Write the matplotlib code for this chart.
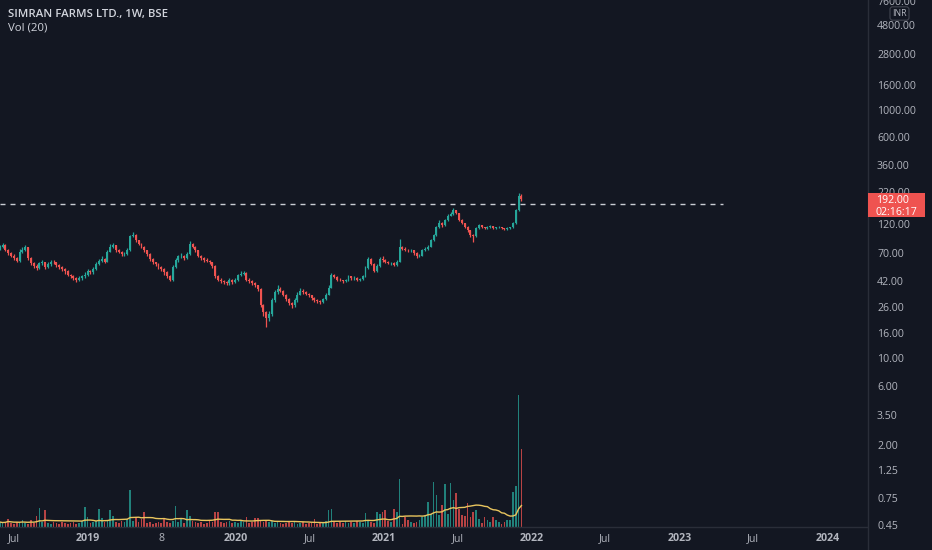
import numpy as np
import pandas as pd
import matplotlib
matplotlib.use('Agg')
import matplotlib.pyplot as plt
import matplotlib.dates as mdates
from matplotlib.patches import Rectangle
from matplotlib.lines import Line2D
from matplotlib.ticker import FixedLocator, FixedFormatter, NullLocator

plt.rcParams['font.family'] = ['Open Sans', 'DejaVu Sans']

# ---------------- data ----------------
start_week = '2018-05-28'   # weekly bars

opens = [76, 79, 82, 75, 70, 67, 64, 61, 72, 75,
         78, 64, 58, 55, 53, 58, 59, 54, 57, 60,
         59, 56, 54, 52, 50, 47, 45.5, 44, 42.4, 44,
         45.5, 47, 50, 49, 52, 57, 61, 63, 60, 72,
         79, 81, 74, 72, 69, 69.5, 74, 96, 99, 89,
         83, 79, 74, 69, 63, 59, 57, 54, 52, 49,
         45.5, 43, 54, 62, 66, 67, 64, 69, 83, 79,
         74, 67, 64, 62, 61, 59, 55, 45.5, 43, 41.6,
         41, 40, 42.4, 41, 43, 46.5, 48, 48.5, 43, 41.6,
         40, 38.6, 36.4, 26.7, 23.5, 21, 22.5, 29.3, 34, 36.4,
         35, 32.5, 29.8, 27.8, 26.7, 29.3, 32.5, 34.5, 34, 33,
         32, 30.3, 29.3, 28.8, 28.4, 29.8, 32.5, 37, 46.5, 45,
         43, 42.4, 41.6, 42.4, 45.5, 44, 44.5, 43, 43.5, 45.5,
         53, 63, 57, 50, 55, 63, 62, 60, 58, 58.5,
         56, 60, 78, 76, 75, 74, 74.5, 70, 66, 67,
         74, 76, 79, 89, 98, 113, 122, 118, 129, 141,
         145, 155, 147, 129, 122, 115, 107, 98, 96, 111,
         118, 113, 111, 115, 115.5, 111, 113, 113.5, 111, 109,
         111, 113, 122, 155, 203]

closes = [79, 82, 75, 70, 67, 64, 61, 72, 75, 78,
          64, 58, 55, 53, 58, 59, 54, 57, 60, 59,
          56, 54, 52, 50, 47, 45.5, 44, 42.4, 44, 45.5,
          47, 50, 49, 52, 57, 61, 63, 60, 72, 79,
          81, 74, 72, 69, 69.5, 74, 96, 99, 89, 83,
          79, 74, 69, 63, 59, 57, 54, 52, 49, 45.5,
          43, 54, 62, 66, 67, 64, 69, 83, 79, 74,
          67, 64, 62, 61, 59, 55, 45.5, 43, 41.6, 41,
          40, 42.4, 41, 43, 46.5, 48, 48.5, 43, 41.6, 40,
          38.6, 36.4, 26.7, 23.5, 21, 22.5, 29.3, 34, 36.4, 35,
          32.5, 29.8, 27.8, 26.7, 29.3, 32.5, 34.5, 34, 33, 32,
          30.3, 29.3, 28.8, 28.4, 29.8, 32.5, 37, 46.5, 45, 43,
          42.4, 41.6, 42.4, 45.5, 44, 44.5, 43, 43.5, 45.5, 53,
          63, 57, 50, 55, 63, 62, 60, 58, 58.5, 56,
          60, 78, 76, 75, 74, 74.5, 70, 66, 67, 74,
          76, 79, 89, 98, 113, 122, 118, 129, 141, 145,
          155, 147, 129, 122, 115, 107, 98, 96, 111, 118,
          113, 111, 115, 115.5, 111, 113, 113.5, 111, 109, 111,
          113, 122, 155, 203, 192]

highs = [82, 85, 83, 76, 72, 69, 65, 76, 78, 81,
         79, 65, 59, 57, 60, 62, 60, 59, 62, 62,
         60, 57, 55, 53, 51, 48, 46.5, 45, 45.5, 47,
         49, 52, 51.5, 54, 59, 63, 66, 64, 74, 83,
         85, 82, 76, 73, 72, 77, 99, 104, 100, 90,
         85, 80, 75, 70, 64, 60, 58, 55, 53, 50,
         46.5, 56, 64, 68, 70, 68, 71, 88, 85, 80,
         75, 68, 65, 64, 62, 60, 56, 47, 44, 43,
         42, 44, 43.5, 44.5, 48, 50, 50.5, 49, 44, 42.5,
         41, 39, 37, 27.5, 24, 24, 30.5, 35.5, 38.5, 37.5,
         35.5, 33, 30.5, 28.5, 30.5, 34, 36.5, 36, 35, 33.5,
         32.5, 31, 30, 29.5, 30.5, 33.5, 38.5, 48.5, 47.5, 46,
         44, 43, 43.5, 47, 46, 45.5, 45, 44.5, 47, 55,
         65, 64, 58, 57, 65, 66, 63, 61, 60, 59,
         62, 91, 80, 78, 76, 76, 75, 71, 69, 76,
         78, 82, 92, 101, 116, 130, 124, 132, 145, 150,
         162, 157, 148, 131, 123, 116, 108, 100, 113, 121,
         119, 115, 117, 118, 117, 115, 116, 115, 112, 113,
         115, 126, 160, 213, 210]

lows = [74, 77, 73, 68, 65, 62, 59, 60, 70, 73,
        62, 56, 53, 51, 52, 56, 52, 53, 55, 57,
        54, 52, 50, 48, 46, 44, 43, 41, 41.5, 43,
        44.5, 46, 47.5, 48, 51, 56, 60, 58, 59, 71,
        77, 72, 70, 67, 67, 68, 73, 94, 87, 81,
        77, 72, 67, 61, 57, 55, 52, 50, 47, 44,
        41.5, 42, 53, 60, 64, 62, 63, 68, 77, 72,
        65, 62, 60, 59, 57, 53, 44, 41.5, 40, 39.5,
        38.5, 39, 39.5, 40, 42, 45.5, 46.5, 42, 40, 39,
        37.5, 35, 26, 22, 17.7, 20, 22, 28.5, 33, 34,
        31.5, 29, 27, 25.5, 26, 28.5, 32, 33, 32, 31,
        29.5, 28.5, 28, 27.5, 27.8, 29.3, 32, 36.5, 44, 42,
        41.5, 40.5, 41, 41.8, 43, 43, 42, 42, 43, 45,
        52, 56, 49, 49.5, 54, 60, 58, 57, 56.5, 55,
        55, 59, 74, 73, 72, 72, 68, 64, 65, 66,
        73, 75, 78, 88, 97, 111, 115, 117, 127, 139,
        143, 144, 127, 120, 112, 104, 95, 86, 95, 109,
        111, 109, 110, 112, 109, 109, 111, 109, 107, 107,
        110, 112, 120, 153, 185]

# weekly volume (thousand shares)
volumes = [5, 4, 5, 8, 4, 3, 5, 4, 7, 4,
           3, 7, 4, 11, 19, 5, 17, 4, 3, 5,
           4, 3, 5, 4, 3, 4, 5, 3, 4, 6,
           20, 10, 4, 5, 6, 18, 9, 5, 6, 17,
           11, 5, 4, 6, 5, 8, 37, 6, 9, 5,
           8, 15, 4, 5, 3, 4, 5, 4, 8, 5,
           4, 6, 21, 5, 8, 4, 17, 11, 6, 5,
           4, 5, 3, 4, 6, 5, 15, 15, 5, 4,
           5, 6, 4, 5, 4, 6, 5, 10, 4, 5,
           9, 9, 6, 5, 7, 5, 6, 4, 5, 4,
           3, 4, 5, 4, 5, 3, 4, 5, 3, 4,
           4, 8, 3, 4, 5, 6, 17, 18, 5, 4,
           5, 4, 6, 4, 5, 4, 6, 5, 4, 14,
           6, 5, 4, 15, 13, 15, 17, 6, 5, 18,
           15, 48, 3, 10, 7, 5, 4, 5, 7, 10,
           12, 25, 13, 45, 32, 12, 22, 43, 13, 44,
           27, 34, 18, 12, 11, 24, 10, 15, 17, 8,
           4, 10, 7, 5, 10, 7, 5, 3, 5, 7,
           7, 35, 41, 132, 78]

price_ticks = [7600, 4800, 2800, 1600, 1000, 600, 360, 220, 120, 70, 42,
               26, 16, 10, 6, 3.5, 2, 1.25, 0.75, 0.45]
time_ticks = ['2018-07-01', '2019-01-01', '2019-07-01', '2020-01-01',
              '2020-07-01', '2021-01-01', '2021-07-01', '2022-01-01',
              '2022-07-01', '2023-01-01', '2023-07-01', '2024-01-01']
time_labels = ['Jul', '2019', '8', '2020', 'Jul', '2021', 'Jul', '2022',
               'Jul', '2023', 'Jul', '2024']
level_line = 174
last_price = 192.00
countdown = '02:16:17'
title = 'SIMRAN FARMS LTD., 1W, BSE'
vol_title = 'Vol (20)'
ma_len = 20

# ---------------- style ----------------
BG = '#131722'
GREEN = '#26a69a'
RED = '#ef5350'
TXT = '#b2b5be'
LINE = '#2a2e39'
MA_COLOR = '#e9c55e'

W, H = 932, 550
fig = plt.figure(figsize=(W / 100, H / 100), dpi=100, facecolor=BG)
plot_right, plot_bottom = 867, 527
ax = fig.add_axes([0, (H - plot_bottom) / H, plot_right / W, plot_bottom / H])
axv = ax.twinx()
axv.set_zorder(ax.get_zorder() - 1)
ax.patch.set_visible(False)
axv.patch.set_visible(False)

o = np.array(opens, float)
c = np.array(closes, float)
h = np.array(highs, float)
l = np.array(lows, float)
v = np.array(volumes, float)
dates = pd.date_range(start_week, periods=len(c), freq='7D')
x = mdates.date2num(dates)
colors = np.where(c >= o, GREEN, RED)

# x range: 2019-01-01 at px 88, 0.4051 px/day
ppd = 0.4051
x_left = mdates.date2num(pd.Timestamp('2019-01-01')) - 88 / ppd
x_right = x_left + plot_right / ppd
ax.set_xlim(x_left, x_right)

ax.set_yscale('log')
ax.set_ylim(0.436, 7687)

# candles
ax.vlines(x, l, h, colors=colors, lw=0.9, zorder=3)
ax.bar(x, np.abs(c - o), bottom=np.minimum(o, c), width=4.8,
       color=colors, linewidth=0, zorder=4)

# volume
axv.bar(x, v, width=4.2, color=colors, alpha=0.75, linewidth=0)
ma = pd.Series(v).rolling(ma_len, min_periods=1).mean()
axv.plot(x, ma, color=MA_COLOR, lw=1.0)
axv.set_ylim(0, v.max() / 0.25)
axv.yaxis.set_visible(False)

# horizontal level (drawn line)
ax.axhline(level_line, xmin=0, xmax=723 / plot_right, color='#c9ccd3',
           lw=1.0, dashes=(3.6, 3.6), zorder=2)

# axes styling
for a in (ax, axv):
    for s in a.spines.values():
        s.set_visible(False)

ax.yaxis.tick_right()
ax.yaxis.set_major_locator(FixedLocator(price_ticks))
ax.yaxis.set_major_formatter(FixedFormatter([f'{t:.2f}' for t in price_ticks]))
ax.yaxis.set_minor_locator(NullLocator())
ax.tick_params(axis='y', which='both', length=0, pad=7.2, labelsize=7.6,
               labelcolor=TXT)

tick_x = mdates.date2num(pd.to_datetime(time_ticks))
ax.set_xticks(tick_x)
ax.set_xticklabels(time_labels)
ax.xaxis.set_minor_locator(NullLocator())
ax.tick_params(axis='x', which='both', length=0, pad=4.5, labelsize=7.7,
               labelcolor=TXT)
for lbl in ax.get_xticklabels():
    if len(lbl.get_text()) == 4 and lbl.get_text().isdigit():
        lbl.set_fontweight('bold')

# frame lines
fig.add_artist(Line2D([(plot_right + 0.5) / W] * 2, [0, 1], color=LINE,
                      lw=1, transform=fig.transFigure))
fig.add_artist(Line2D([0, plot_right / W], [(H - plot_bottom) / H] * 2,
                      color=LINE, lw=1, transform=fig.transFigure))

# last price label box
y_disp = ax.transData.transform((x_left, last_price))[1]
box_top = y_disp + 5.6
box_bot = y_disp - 18.4
fig.add_artist(Rectangle((868 / W, box_bot / H), 57 / W, (box_top - box_bot) / H,
                         transform=fig.transFigure, facecolor=RED,
                         edgecolor='none', zorder=10))
fig.text(876 / W, (y_disp - 1.4) / H, f'{last_price:.2f}', color='white',
         fontsize=7.6, ha='left', va='center', zorder=11)
fig.text(876 / W, (y_disp - 13.4) / H, countdown, color='white',
         fontsize=7.6, ha='left', va='center', zorder=11)

# currency tag
fig.text(899.5 / W, 1 - 13.5 / H, 'INR', color=TXT, fontsize=6.3,
         ha='center', va='center', zorder=11,
         bbox=dict(boxstyle='round,pad=0.25,rounding_size=0.3', fc=BG,
                   ec='#434651', lw=0.8))

# titles
fig.text(8 / W, 1 - 14 / H, title, color='#d1d4dc', fontsize=8.2,
         fontweight='semibold', ha='left', va='center')
fig.text(8 / W, 1 - 28 / H, vol_title, color='#d1d4dc', fontsize=8.2,
         ha='left', va='center')

fig.savefig('out.png', dpi=100, facecolor=BG)
